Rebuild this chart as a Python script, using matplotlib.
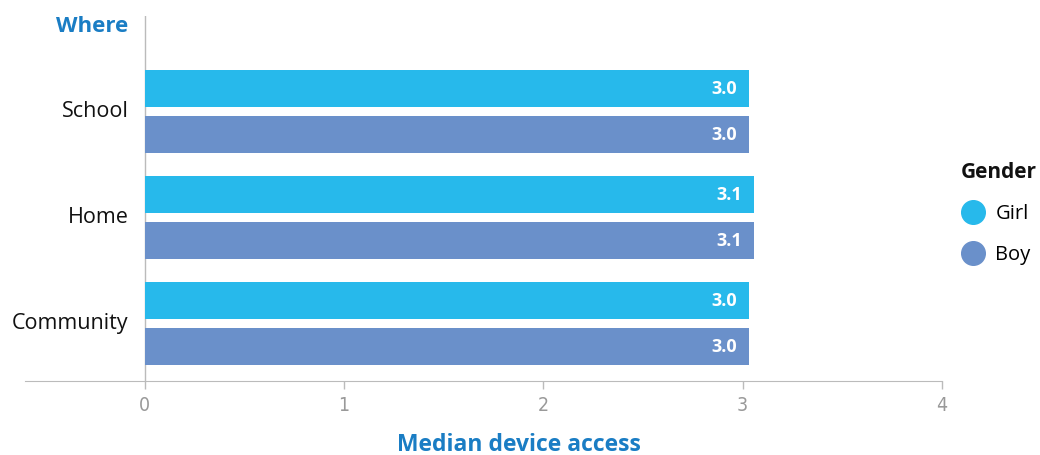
import matplotlib.pyplot as plt
from matplotlib.lines import Line2D

# Data
places = ['School', 'Home', 'Community']
girl = [3.03, 3.055, 3.03]
boy = [3.03, 3.055, 3.03]

girl_color = '#27b9eb'
boy_color = '#6a90ca'
blue_text = '#1a7dc4'

plt.rcParams['font.family'] = ['Open Sans', 'DejaVu Sans']

fig = plt.figure(figsize=(10.4, 4.55), dpi=100)
ax = fig.add_axes([25 / 1040, 74 / 455, 917 / 1040, 365 / 455])

h = 0.349
off = 0.217
ys = list(range(len(places)))
ax.barh([y - off for y in ys], girl, height=h, color=girl_color, label='Girl')
ax.barh([y + off for y in ys], boy, height=h, color=boy_color, label='Boy')

for y, g, b in zip(ys, girl, boy):
    ax.text(g - 0.06, y - off, f'{g:.1f}', color='white', fontsize=13,
            fontweight='bold', ha='right', va='center')
    ax.text(b - 0.06, y + off, f'{b:.1f}', color='white', fontsize=13,
            fontweight='bold', ha='right', va='center')

ax.set_xlim(-0.6, 4)
ax.set_ylim(2.542, -0.901)

for s in ['top', 'right', 'left']:
    ax.spines[s].set_visible(False)
ax.spines['bottom'].set_color('#bbbbbb')
ax.axvline(0, color='#bbbbbb', lw=1, zorder=0)

ax.set_xticks([0, 1, 2, 3, 4])
ax.tick_params(axis='x', colors='#bbbbbb', length=6, width=1, pad=5,
               labelcolor='#999999', labelsize=14)
for lbl in ax.get_xticklabels():
    lbl.set_family(['DejaVu Sans'])
    lbl.set_fontstretch('condensed')
    lbl.set_fontweight('light')
ax.set_yticks([])

# category labels
for y, p in zip(ys, places):
    ax.text(-0.08, y, p, ha='right', va='center', fontsize=15.5, color='#111111')
ax.text(-0.08, -0.8, 'Where', ha='right', va='center', fontsize=16,
        fontweight='bold', color=blue_text)

fig.text(519 / 1040, 1 - 445 / 455, 'Median device access', ha='center', va='center',
         fontsize=16.5, fontweight='bold', color=blue_text)

# legend
fig.text(961 / 1040, 1 - 172 / 455, 'Gender', ha='left', va='center',
         fontsize=15, fontweight='bold', color='#111111')
handles = [Line2D([], [], marker='o', ls='', markersize=17, color=girl_color),
           Line2D([], [], marker='o', ls='', markersize=17, color=boy_color)]
fig.legend(handles, ['Girl', 'Boy'], loc='upper left',
           bbox_to_anchor=(940 / 1040, 1 - 186 / 455), frameon=False,
           fontsize=14.5, handletextpad=0.35, labelspacing=1.02,
           handlelength=1.5)

fig.savefig('out.png', dpi=100)
